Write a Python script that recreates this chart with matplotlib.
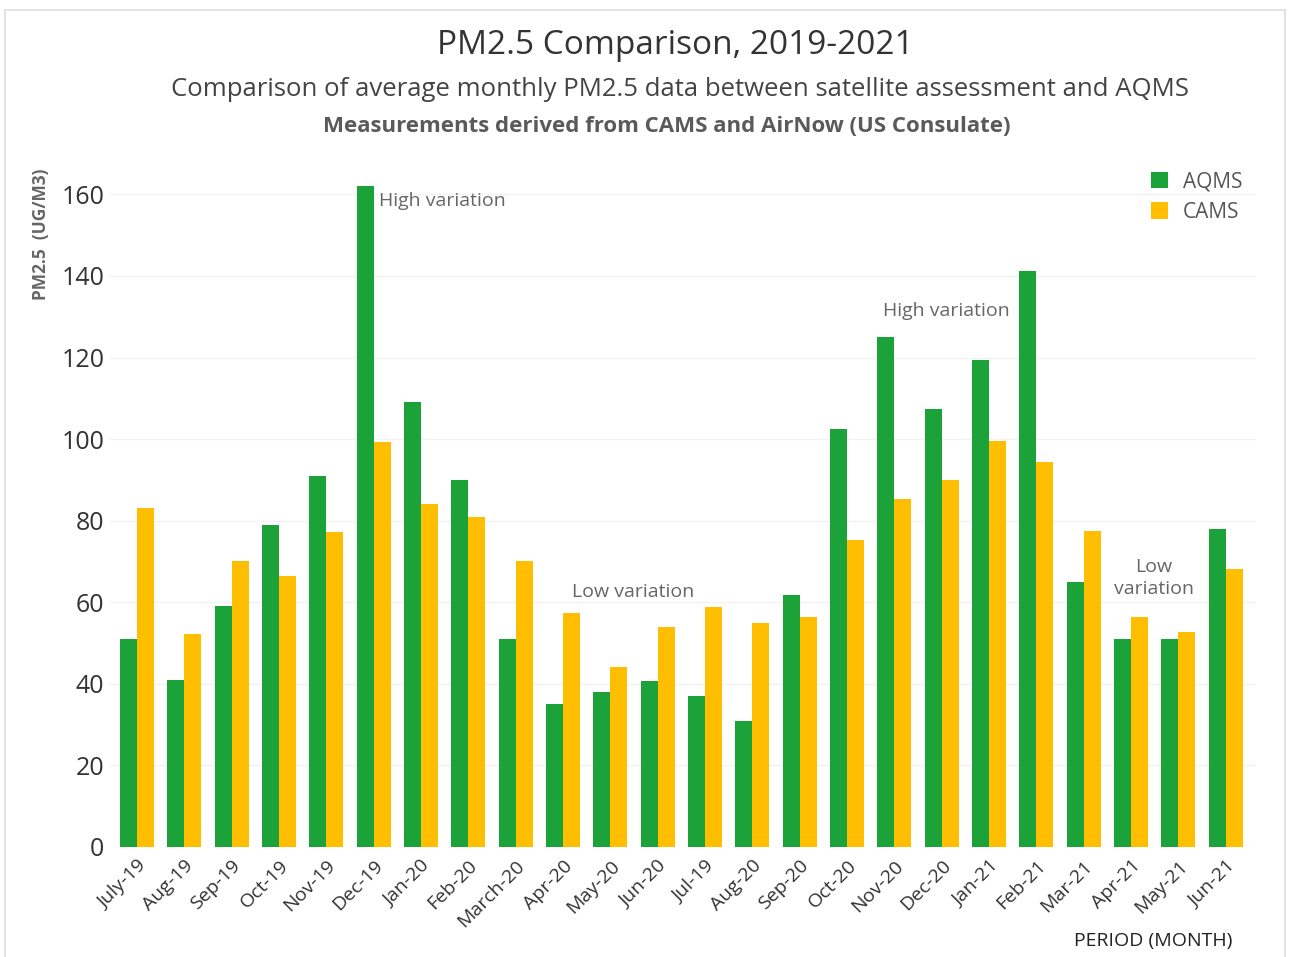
import matplotlib.pyplot as plt
import numpy as np
from matplotlib.patches import Rectangle

months = ["July-19", "Aug-19", "Sep-19", "Oct-19", "Nov-19", "Dec-19",
          "Jan-20", "Feb-20", "March-20", "Apr-20", "May-20", "Jun-20",
          "Jul-19", "Aug-20", "Sep-20", "Oct-20", "Nov-20", "Dec-20",
          "Jan-21", "Feb-21", "Mar-21", "Apr-21", "May-21", "Jun-21"]
aqms = [51, 41, 59, 79, 91, 162, 109, 90, 51, 35, 38, 40.6,
        37, 31, 61.7, 102.5, 125, 107.4, 119.3, 141.3, 65, 51, 51, 78]
cams = [83, 52.3, 70, 66.4, 77.2, 99.3, 84, 81, 70, 57.3, 44, 54,
        58.8, 55, 56.5, 75.3, 85.3, 90, 99.5, 94.5, 77.4, 56.3, 52.6, 68.1]

GREEN = "#1ba33a"
YELLOW = "#ffbe00"
plt.rcParams["font.family"] = ["Open Sans", "DejaVu Sans"]

fig = plt.figure(figsize=(12.93, 9.57), dpi=100)
ax = fig.add_axes([0.085, 0.115, 0.886, 0.733])

x = np.arange(len(months))
w = 0.36
ax.bar(x - w/2, aqms, width=w, color=GREEN, label="AQMS", zorder=3)
ax.bar(x + w/2, cams, width=w, color=YELLOW, label="CAMS", zorder=3)

ax.set_xlim(-0.57, 23.63)
ax.set_ylim(0, 172)
ax.set_yticks(range(0, 161, 20))
ax.yaxis.grid(True, color="#f2f2f2", linewidth=1, zorder=0)
ax.tick_params(axis="y", length=0, labelsize=18, labelcolor="#333333", pad=4)
ax.set_xticks(x)
ax.set_xticklabels(months, rotation=45, ha="right", rotation_mode="anchor",
                   fontsize=14, color="#333333")
ax.tick_params(axis="x", length=0, pad=7)
for s in ax.spines.values():
    s.set_visible(False)

# annotations
ax.text(5.12, 158.5, "High variation", fontsize=14, color="#666666", ha="left", va="center")
ax.text(10.49, 62.4, "Low variation", fontsize=14, color="#666666", ha="center", va="center")
ax.text(17.1, 131.5, "High variation", fontsize=14, color="#666666", ha="center", va="center")
ax.text(21.48, 65.9, "Low\nvariation", fontsize=14, color="#666666", ha="center", va="center",
        linespacing=1.3)

leg = ax.legend(loc="upper right", bbox_to_anchor=(1.005, 0.99), frameon=False,
                fontsize=15, handlelength=0.85, handleheight=0.85, handletextpad=0.7,
                labelspacing=0.45)
for t in leg.get_texts():
    t.set_color("#555555")

fig.text(0.522, 0.952, "PM2.5 Comparison, 2019-2021", ha="center", va="center",
         fontsize=24, color="#333333")
fig.text(0.526, 0.906, "Comparison of average monthly PM2.5 data between satellite assessment and AQMS",
         ha="center", va="center", fontsize=18.5, color="#444444")
fig.text(0.516, 0.868, "Measurements derived from CAMS and AirNow (US Consulate)",
         ha="center", va="center", fontsize=16, color="#5a5a5a", fontweight="bold")
fig.text(0.032, 0.755, "PM2.5  (UG/M3)", rotation=90, ha="center", va="center",
         fontsize=12.5, color="#666666", fontweight="bold")
fig.text(0.892, 0.017, "PERIOD (MONTH)", ha="center", va="center",
         fontsize=14, color="#222222")

# light frame around the figure
fig.patches.append(Rectangle((0.004, -0.01), 0.99, 1.0, transform=fig.transFigure,
                             fill=False, edgecolor="#dddddd", linewidth=1.2))

fig.savefig("out.png", dpi=100)
